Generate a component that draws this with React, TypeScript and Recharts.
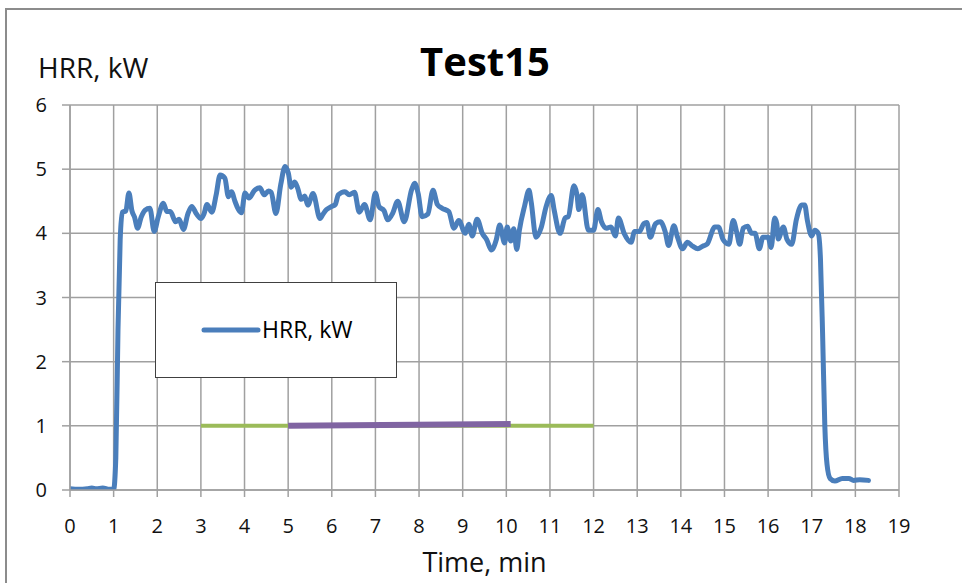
import React from 'react';
import { LineChart, Line, XAxis, YAxis, CartesianGrid, Legend } from 'recharts';

const hrrTime = [
  0, 0.2, 0.4, 0.5, 0.6, 0.75, 0.9, 1.0, 1.05, 1.1, 1.15, 1.2, 1.28, 1.35, 1.42, 1.48, 1.55, 1.63, 1.72, 1.83,
  1.93, 2.02, 2.14, 2.22, 2.3, 2.42, 2.5, 2.6, 2.7, 2.79, 2.9, 3.0, 3.07, 3.14, 3.25, 3.35, 3.44, 3.55, 3.63, 3.7,
  3.78, 3.86, 3.93, 4.01, 4.1, 4.23, 4.35, 4.45, 4.55, 4.61, 4.72, 4.83, 4.93, 5.0, 5.07, 5.15, 5.22, 5.3, 5.38, 5.45,
  5.57, 5.73, 5.8, 5.88, 6.0, 6.08, 6.15, 6.3, 6.4, 6.52, 6.63, 6.75, 6.88, 7.0, 7.08, 7.2, 7.28, 7.4, 7.51, 7.66,
  7.83, 7.9, 7.98, 8.07, 8.2, 8.32, 8.42, 8.53, 8.68, 8.8, 8.91, 9.06, 9.14, 9.22, 9.33, 9.45, 9.55, 9.66, 9.77, 9.85,
  9.96, 10.02, 10.1, 10.17, 10.24, 10.3, 10.42, 10.52, 10.57, 10.68, 10.8, 10.91, 11.03, 11.1, 11.23, 11.35, 11.42, 11.55, 11.62, 11.66,
  11.74, 11.88, 12.0, 12.1, 12.18, 12.3, 12.4, 12.5, 12.57, 12.7, 12.86, 12.94, 13.05, 13.15, 13.22, 13.3, 13.42, 13.53, 13.64, 13.72,
  13.84, 13.92, 14.04, 14.15, 14.27, 14.39, 14.5, 14.6, 14.78, 14.86, 14.97, 15.1, 15.2, 15.28, 15.35, 15.43, 15.53, 15.62, 15.7, 15.8,
  15.88, 16.0, 16.07, 16.15, 16.2, 16.23, 16.35, 16.43, 16.54, 16.65, 16.77, 16.84, 16.9, 17.0, 17.07, 17.15, 17.2, 17.25, 17.3, 17.35,
  17.42, 17.53, 17.7, 17.85, 17.96, 18.1, 18.3,
];
const hrrValue = [
  0.02, 0.01, 0.02, 0.03, 0.02, 0.03, 0.01, 0.01, 0.5, 2.5, 3.9, 4.33, 4.35, 4.63, 4.35, 4.25, 4.08, 4.25, 4.36, 4.39,
  4.03, 4.25, 4.47, 4.34, 4.34, 4.18, 4.22, 4.06, 4.3, 4.42, 4.3, 4.23, 4.3, 4.45, 4.33, 4.6, 4.91, 4.86, 4.57, 4.65,
  4.5, 4.37, 4.32, 4.63, 4.55, 4.67, 4.71, 4.6, 4.66, 4.64, 4.31, 4.76, 5.04, 4.95, 4.72, 4.8, 4.7, 4.53, 4.58, 4.44,
  4.62, 4.23, 4.3, 4.37, 4.42, 4.45, 4.6, 4.65, 4.6, 4.64, 4.33, 4.45, 4.21, 4.63, 4.42, 4.35, 4.21, 4.32, 4.5, 4.18,
  4.68, 4.78, 4.62, 4.26, 4.3, 4.67, 4.45, 4.39, 4.34, 4.08, 4.2, 4.0, 4.14, 3.96, 4.22, 4.0, 3.9, 3.74, 3.9, 4.13,
  3.85, 4.1, 3.88, 4.07, 3.75, 4.05, 4.43, 4.67, 4.49, 3.94, 4.09, 4.41, 4.59, 4.35, 4.0, 4.24, 4.26, 4.74, 4.6, 4.37,
  4.6, 4.05, 4.05, 4.37, 4.18, 4.08, 4.1, 3.96, 4.24, 4.0, 3.86, 4.03, 4.03, 4.15, 4.17, 3.94, 4.15, 4.18, 4.03, 3.81,
  4.12, 3.95, 3.76, 3.86, 3.8, 3.76, 3.8, 3.83, 4.1, 4.1, 3.9, 3.83, 4.2, 4.02, 3.83, 4.08, 4.11, 4.0, 4.0, 3.76,
  3.94, 3.94, 3.78, 4.24, 4.15, 3.91, 4.1, 3.91, 3.83, 4.22, 4.44, 4.44, 4.2, 3.96, 4.05, 4.0, 3.6, 2.4, 1.0, 0.4,
  0.18, 0.14, 0.18, 0.18, 0.15, 0.16, 0.15,
];
const greenTime = [3, 12];
const greenValue = [1, 1];
const purpleTime = [5, 10.1];
const purpleValue = [1.0, 1.03];
const xTicks = [0, 1, 2, 3, 4, 5, 6, 7, 8, 9, 10, 11, 12, 13, 14, 15, 16, 17, 18, 19];
const yTicks = [0, 1, 2, 3, 4, 5, 6];

const hrrData = hrrTime.map((t, i) => ({ t, v: hrrValue[i] }));
const greenData = greenTime.map((t, i) => ({ t, v: greenValue[i] }));
const purpleData = purpleTime.map((t, i) => ({ t, v: purpleValue[i] }));

const FONT = '"Open Sans", "DejaVu Sans", sans-serif';
const GRID = '#a0a0a0';

const LegendBox = () => (
  <div
    style={{
      width: 242,
      height: 96,
      boxSizing: 'border-box',
      border: '1.5px solid #404040',
      background: '#fff',
      position: 'relative',
      fontFamily: FONT,
    }}
  >
    <svg width={240} height={94} style={{ position: 'absolute', left: 0, top: 0 }}>
      <line x1={48} y1={47} x2={102} y2={47} stroke="#4a7ebb" strokeWidth={5} strokeLinecap="round" />
      <text x={106} y={55} fontSize={23} fill="#000" fontFamily={FONT}>HRR, kW</text>
    </svg>
  </div>
);

export default function App() {
  return (
    <div style={{ position: 'absolute', left: 0, top: 0, width: 962, height: 583, background: '#fff', overflow: 'hidden' }}>
      <div
        style={{
          position: 'absolute',
          left: 5,
          top: 8,
          width: 1000,
          height: 700,
          borderLeft: '2px solid #8c8c8c',
          borderTop: '2px solid #8c8c8c',
        }}
      />
      <div style={{ position: 'absolute', left: 0, top: 0 }}>
        <LineChart width={962} height={583} margin={{ top: 105, right: 63, left: 0, bottom: 0 }}>
          <CartesianGrid stroke={GRID} strokeWidth={1.5} horizontal vertical />
          <XAxis
            type="number"
            dataKey="t"
            domain={[0, 19]}
            ticks={xTicks}
            interval={0}
            height={93}
            tickSize={7}
            tickMargin={22}
            axisLine={{ stroke: GRID, strokeWidth: 1.5 }}
            tickLine={{ stroke: GRID, strokeWidth: 1.5 }}
            tick={{ fontSize: 20, fill: '#111', fontFamily: FONT }}
            allowDataOverflow
            label={{ value: 'Time, min', position: 'insideBottom', offset: 11, fontSize: 27, fill: '#111', fontFamily: FONT }}
          />
          <YAxis
            type="number"
            dataKey="v"
            domain={[0, 6]}
            ticks={yTicks}
            interval={0}
            width={70}
            tickSize={8}
            tickMargin={15}
            axisLine={{ stroke: GRID, strokeWidth: 1.5 }}
            tickLine={{ stroke: GRID, strokeWidth: 1.5 }}
            tick={{ fontSize: 20, fill: '#111', fontFamily: FONT }}
            allowDataOverflow
          />
          <Legend
            layout="horizontal"
            verticalAlign="middle"
            align="center"
            content={() => <LegendBox />}
            wrapperStyle={{ left: 155, top: 282, width: 242, height: 96 }}
          />
          <Line data={hrrData} dataKey="v" name="HRR, kW" type="monotone" stroke="#4a7ebb" strokeWidth={5} dot={false} strokeLinejoin="round" strokeLinecap="round" isAnimationActive={false} />
          <Line data={greenData} dataKey="v" name="green" type="linear" stroke="#9bbb59" strokeWidth={4} dot={false} isAnimationActive={false} legendType="none" />
          <Line data={purpleData} dataKey="v" name="purple" type="linear" stroke="#8064a2" strokeWidth={6} dot={false} isAnimationActive={false} legendType="none" />
        </LineChart>
      </div>
      <svg width={962} height={110} style={{ position: 'absolute', left: 0, top: 0, pointerEvents: 'none' }}>
        <text x={485} y={76} textAnchor="middle" fontSize={40} fontWeight="bold" fill="#000" fontFamily={FONT}>Test15</text>
        <text x={38} y={78} fontSize={28} fill="#111" fontFamily={FONT}>HRR, kW</text>
      </svg>
    </div>
  );
}
